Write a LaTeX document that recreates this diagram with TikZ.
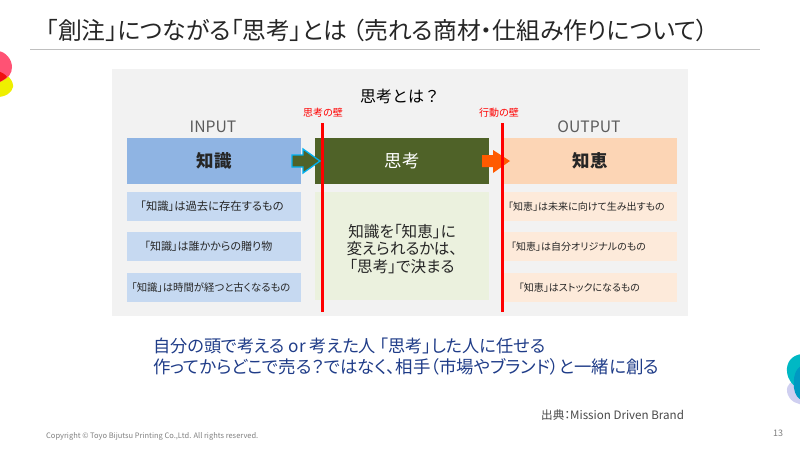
\documentclass[tikz,border=0pt]{standalone}
\usepackage{fontspec}
\setmainfont{Noto Sans CJK JP}[RawFeature=+palt]
\newfontfamily\fullwidth{Noto Sans CJK JP}
\newcommand{\fs}[1]{\fontsize{#1}{#1}\selectfont}
\newcommand{\shiftl}[1]{\rule{#1pt}{0pt}}
\definecolor{panelgray}{HTML}{F2F2F2}
\definecolor{bluehead}{HTML}{8FB4E3}
\definecolor{bluecell}{HTML}{C6D9F1}
\definecolor{olivehead}{HTML}{4F6228}
\definecolor{olivecell}{HTML}{EBF1DE}
\definecolor{orangehead}{HTML}{FCD5B5}
\definecolor{orangecell}{HTML}{FDEADA}
\definecolor{navytext}{HTML}{1F3C88}
\definecolor{darktext}{HTML}{262626}
\definecolor{graytext}{HTML}{7F7F7F}
\definecolor{wallred}{HTML}{FF0000}
\definecolor{arroworange}{HTML}{FF5A00}
\definecolor{arrowblue}{HTML}{00B0F0}
\definecolor{blobpink}{HTML}{FF5274}
\definecolor{blobyellow}{HTML}{EFEF00}
\definecolor{blobred}{HTML}{F01010}
\definecolor{blobteal}{HTML}{00B8C4}
\definecolor{blobblue}{HTML}{0099C2}
\definecolor{bloblav}{HTML}{CFCFF0}
\tikzset{
  x=1pt,y=-1pt,
  box/.style={draw=none,inner sep=0pt,outer sep=0pt,anchor=north west,align=center,text=darktext},
  headbox/.style={box,minimum height=46pt,font=\fs{17.5}},
  bluecellbox/.style={box,fill=bluecell,minimum width=174pt,minimum height=29pt,font=\fs{11}},
  orangecellbox/.style={box,fill=orangecell,minimum width=174pt,minimum height=29pt,font=\fs{10}},
  wall/.style={draw=wallred,line width=3pt},
  walllabel/.style={inner sep=0pt,text=wallred,font=\fs{10}},
  iolabel/.style={inner sep=0pt,text=darktext!75,font=\fs{15.7}},
  blocktext/.style={inner sep=0pt,anchor=west,text=navytext,font=\fs{17.2}},
}
\begin{document}
\begin{tikzpicture}
\useasboundingbox (0,0) rectangle (800,450);
% side blobs
\begin{scope}
  \clip (0,0) rectangle (800,450);
  \fill[blobyellow] (-3,70) .. controls (8,73) and (14,82) .. (13,87) .. controls (12,93) and (5,97) .. (-3,97) -- cycle;
  \fill[blobpink] (-3,51) .. controls (6,51) and (12,60) .. (12,67) .. controls (12,74) and (8,78) .. (2,81) -- (-3,83) -- cycle;
  \fill[blobred] (-3,71) .. controls (2,72) and (6,75) .. (7,77) .. controls (5,79) and (2,81) .. (-3,83) -- cycle;
  \fill[bloblav] (790,383) .. controls (785,387) and (786,397) .. (794,402) -- (802,405) -- (802,383) -- cycle;
  \fill[blobteal] (802,354) .. controls (792,355) and (786,362) .. (787,372) .. controls (788,380) and (792,386) .. (802,390) -- cycle;
  \fill[blobblue] (802,366) .. controls (795,368) and (793,378) .. (794,388) .. controls (795,395) and (798,399) .. (802,400) -- cycle;
\end{scope}
% title
\node[inner sep=0pt,anchor=west,text=darktext,font=\fs{23.8}] (title) at (46,30) {「創注」につながる「思考」とは （売れる商材・仕組み作りについて）};
\draw[black!25,line width=0.8pt] (30,49.5) -- (760,49.5);
% panel
\node[box,fill=panelgray,minimum width=576pt,minimum height=247pt] (panel) at (112,69) {};
\node[inner sep=0pt,text=black,font=\fullwidth\fs{16}] (ptitle) at (400,96) {思考とは？};
\node[iolabel] (inlabel) at (213,127) {INPUT};
\node[iolabel] (outlabel) at (589,127) {OUTPUT};
% heads
\node[headbox,fill=bluehead,minimum width=174pt] (know) at (127,138) {\bfseries 知識};
\node[headbox,fill=olivehead,minimum width=174pt,text=white] (think) at (315,138) {思考};
\node[headbox,fill=orangehead,minimum width=174pt] (wis) at (503,138) {\bfseries 知恵};
% cells
\node[bluecellbox,font=\fs{11.3}] (k1) at (127,192) {「知識」は過去に存在するもの\shiftl{4}};
\node[bluecellbox] (k2) at (127,232) {「知識」は誰かからの贈り物\shiftl{11}};
\node[bluecellbox,font=\fs{10.4}] (k3) at (127,273) {「知識」は時間が経つと古くなるもの\shiftl{6}};
\node[box,fill=olivecell,minimum width=174pt,minimum height=108pt] (tc) at (315,192) {};
\node[inner sep=0pt,align=center,font=\fs{15.6},text=darktext] (tctext) at (tc.center) [yshift=-3pt] {知識を「知恵」に\\[2pt]変えられるかは、\\[2pt]「思考」で決まる};
\node[orangecellbox] (w1) at (503,192) {「知恵」は未来に向けて生み出すもの\shiftl{7}};
\node[orangecellbox] (w2) at (503,232) {「知恵」は自分オリジナルのもの\shiftl{23}};
\node[orangecellbox] (w3) at (503,273) {「知恵」はストックになるもの\shiftl{21}};
% arrows
\draw[fill=olivehead,draw=arrowblue,line width=1.3pt,line join=miter] (292,155) -- (303,155) -- (303,149) -- (320,161) -- (303,173) -- (303,167) -- (292,167) -- cycle;
\fill[arroworange] (482,155) -- (493,155) -- (493,150) -- (510,161) -- (493,173) -- (493,167) -- (482,167) -- cycle;
% walls
\coordinate (w1top) at (322,123);
\coordinate (w1bot) at (322,312);
\coordinate (w2top) at (502,123);
\coordinate (w2bot) at (502,312);
\draw[wall] (w1top) -- (w1bot);
\draw[wall] (w2top) -- (w2bot);
\node[walllabel] (wl1) at (323,113) {思考の壁};
\node[walllabel] (wl2) at (499,113) {行動の壁};
% bottom text
\node[blocktext] (b1) at (153,346) {自分の頭で考える or 考えた人 「思考」した人に任せる};
\node[blocktext,font=\fs{17.45}] (b2) at (153,367) {作ってからどこで売る？ではなく、相手（市場やブランド）と一緒に創る};
\node[inner sep=0pt,anchor=west,text=darktext!85,font=\fs{11.6}] (src) at (541,415) {出典：Mission Driven Brand};
\node[inner sep=0pt,anchor=west,text=graytext,font=\fs{7.5}] (copy) at (46,436) {Copyright © Toyo Bijutsu Printing Co.,Ltd. All rights reserved.};
\node[inner sep=0pt,text=graytext,font=\fs{9}] (page) at (778,433) {13};
\end{tikzpicture}
\end{document}
